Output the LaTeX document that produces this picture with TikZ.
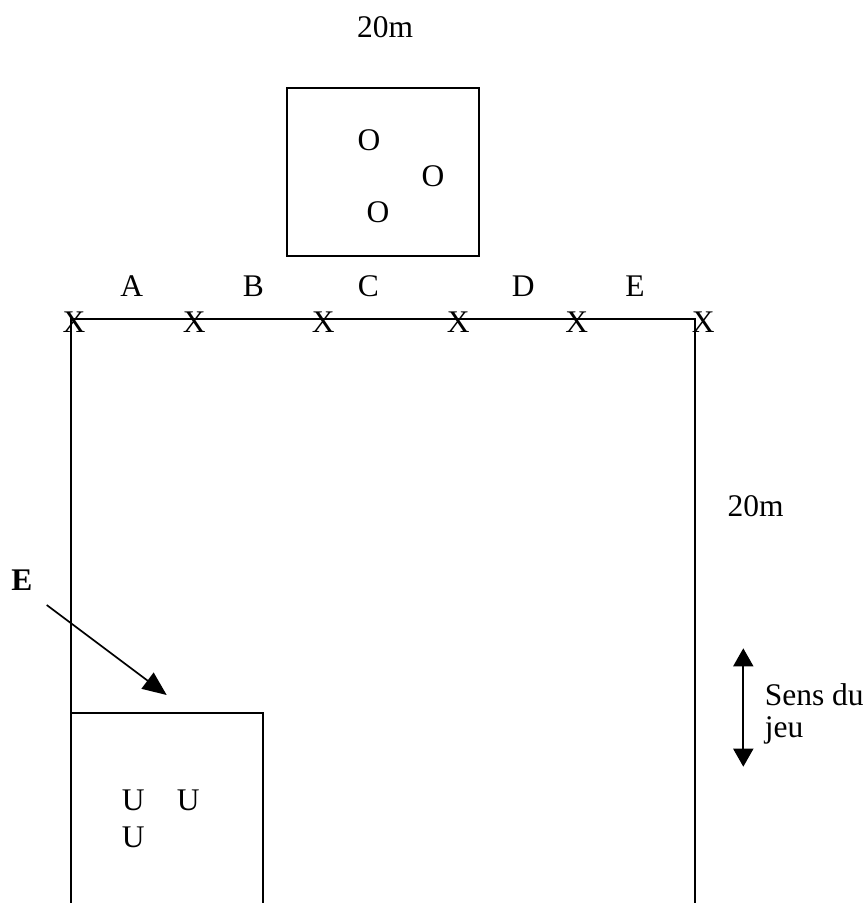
\documentclass[tikz,border=0pt]{standalone}
\usepackage{fontspec}
\setmainfont{Liberation Serif}
\usetikzlibrary{arrows.meta}
\begin{document}
\begin{tikzpicture}[x=1pt,y=-1pt,line width=1.7pt,
  lbl/.style={inner sep=0pt,font=\fontsize{31.5}{38}\selectfont},
  bold/.style={lbl,font=\fontsize{31.5}{38}\selectfont\bfseries},
  arr/.style={-{Triangle[length=24pt,width=20pt]}},
  darr/.style={{Triangle[length=18pt,width=20pt]}-{Triangle[length=18pt,width=20pt]}}]
\useasboundingbox (0,0) rectangle (868,903);
% top box
\draw (287,88) rectangle (479,256);
\node[lbl] (top20) at (385,27.5) {20m};
\node[lbl] (o1) at (369,140) {O};
\node[lbl] (o2) at (433,176) {O};
\node[lbl] (o3) at (378,212) {O};
% field
\draw (71,903) -- (71,319) -- (695,319) -- (695,903);
\node[lbl] (x1) at (74,322.5) {X};
\node[lbl] (x2) at (194.3,322.5) {X};
\node[lbl] (x3) at (323.3,322.5) {X};
\node[lbl] (x4) at (458.3,322.5) {X};
\node[lbl] (x5) at (576.7,322.5) {X};
\node[lbl] (x6) at (703.3,322.5) {X};
\node[lbl] (la) at (131.7,286) {A};
\node[lbl] (lb) at (253.3,286) {B};
\node[lbl] (lc) at (368.3,286) {C};
\node[lbl] (ld) at (523.3,286) {D};
\node[lbl] (le) at (635,286) {E};
\node[lbl] (side20) at (755.5,506) {20m};
% lower box
\draw (71,713) -- (263,713) -- (263,903);
\node[lbl] (u1) at (133.3,800) {U};
\node[lbl] (u2) at (188.3,800) {U};
\node[lbl] (u3) at (133.3,837) {U};
% entry arrow
\node[bold] (entE) at (22,580.5) {E};
\coordinate (as) at (46.7,605);
\coordinate (at) at (166.7,695);
\draw[arr] (as) -- (at);
% direction of play
\coordinate (dt) at (743.3,648.3);
\coordinate (db) at (743.3,766.7);
\draw[darr] (dt) -- (db);
\node[lbl,anchor=base west] (sens) at (764,705) {Sens du};
\node[lbl,anchor=base west] (jeu) at (764,737) {jeu};
\end{tikzpicture}
\end{document}
